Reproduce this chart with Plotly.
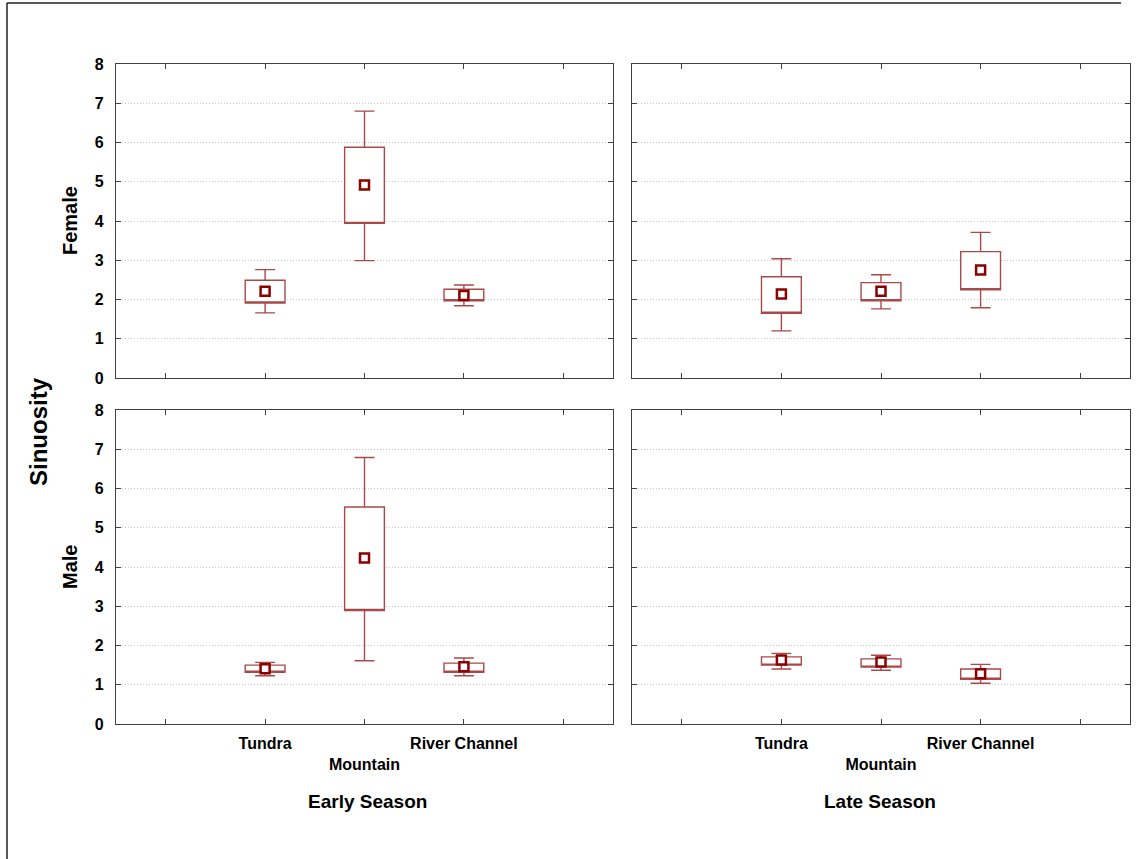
import plotly.graph_objects as go

W, H = 1140, 859

# ---- data ----
habitats = ["Tundra", "Mountain", "River Channel"]
hab_pos = [2, 3, 4]
tick_vals = [1, 2, 3, 4, 5]
tick_text = ["", "Tundra", "<br>Mountain", "River Channel", ""]
seasons = ["Early Season", "Late Season"]
sexes = ["Female", "Male"]

# Female, Early Season
fe_mean = [2.21, 4.92, 2.10]
fe_box_lo = [1.91, 3.94, 1.97]
fe_box_hi = [2.49, 5.88, 2.26]
fe_wh_lo = [1.66, 2.99, 1.84]
fe_wh_hi = [2.76, 6.80, 2.37]

# Female, Late Season
fl_mean = [2.14, 2.21, 2.75]
fl_box_lo = [1.65, 1.97, 2.25]
fl_box_hi = [2.58, 2.43, 3.22]
fl_wh_lo = [1.20, 1.76, 1.79]
fl_wh_hi = [3.04, 2.63, 3.71]

# Male, Early Season
me_mean = [1.41, 4.23, 1.46]
me_box_lo = [1.32, 2.89, 1.32]
me_box_hi = [1.50, 5.53, 1.55]
me_wh_lo = [1.23, 1.61, 1.23]
me_wh_hi = [1.57, 6.79, 1.68]

# Male, Late Season
ml_mean = [1.63, 1.58, 1.28]
ml_box_lo = [1.50, 1.45, 1.14]
ml_box_hi = [1.71, 1.66, 1.40]
ml_wh_lo = [1.40, 1.37, 1.04]
ml_wh_hi = [1.80, 1.75, 1.52]

panels = [
    ("x", "y", fe_mean, fe_box_lo, fe_box_hi, fe_wh_lo, fe_wh_hi),
    ("x2", "y2", fl_mean, fl_box_lo, fl_box_hi, fl_wh_lo, fl_wh_hi),
    ("x3", "y3", me_mean, me_box_lo, me_box_hi, me_wh_lo, me_wh_hi),
    ("x4", "y4", ml_mean, ml_box_lo, ml_box_hi, ml_wh_lo, ml_wh_hi),
]

BOX_COLOR = "#a84a4a"
MEAN_COLOR = "#8b0000"
FONT = "Liberation Sans, Arial, sans-serif"

fig = go.Figure()
for xa, ya, mean, blo, bhi, wlo, whi in panels:
    fig.add_trace(go.Box(
        x=hab_pos, q1=blo, median=blo, q3=bhi,
        lowerfence=wlo, upperfence=whi,
        width=0.4, whiskerwidth=0.5,
        fillcolor="white", line=dict(color=BOX_COLOR, width=1.4),
        boxpoints=False, xaxis=xa, yaxis=ya, showlegend=False,
        hoverinfo="skip",
    ))
    fig.add_trace(go.Scatter(
        x=hab_pos, y=mean, mode="markers",
        marker=dict(symbol="square", size=9, color="white",
                    line=dict(color=MEAN_COLOR, width=2.5)),
        xaxis=xa, yaxis=ya, showlegend=False, hoverinfo="skip",
    ))

def px_x(p):
    return p / W

def px_y(p):
    return 1 - p / H

dom_x = [[px_x(116), px_x(613)], [px_x(632), px_x(1130)]]
dom_y = [[px_y(378), px_y(64)], [px_y(724), px_y(410)]]

tickfont = dict(family=FONT, size=16, color="black", weight="bold")

def xaxis(dom, anchor, labels):
    return dict(
        domain=dom, anchor=anchor, range=[0.5, 5.5], automargin=False,
        tickmode="array", tickvals=tick_vals,
        ticktext=tick_text if labels else [""] * 5,
        showticklabels=labels,
        ticks="inside", ticklen=5, tickcolor="#404040",
        showline=True, linecolor="#404040", linewidth=1.2, mirror="ticks",
        showgrid=False, zeroline=False, tickfont=tickfont,
        ticklabelstandoff=5,
    )

def yaxis(dom, anchor, labels):
    return dict(
        domain=dom, anchor=anchor, range=[0, 8], automargin=False,
        tickmode="array", tickvals=list(range(0, 9)),
        showticklabels=labels,
        ticks="inside", ticklen=5, tickcolor="#404040",
        showline=True, linecolor="#404040", linewidth=1.2, mirror="ticks",
        showgrid=True, gridcolor="#c8c8c8", griddash="1px,2px", gridwidth=1,
        zeroline=False, tickfont=tickfont, ticklabelstandoff=8,
    )

layout = dict(
    width=W, height=H, autosize=False,
    margin=dict(l=0, r=0, t=0, b=0, pad=0, autoexpand=False),
    paper_bgcolor="white", plot_bgcolor="white",
    showlegend=False,
    xaxis=xaxis(dom_x[0], "y", False),
    yaxis=yaxis(dom_y[0], "x", True),
    xaxis2=xaxis(dom_x[1], "y2", False),
    yaxis2=yaxis(dom_y[0], "x2", False),
    xaxis3=xaxis(dom_x[0], "y3", True),
    yaxis3=yaxis(dom_y[1], "x3", True),
    xaxis4=xaxis(dom_x[1], "y4", True),
    yaxis4=yaxis(dom_y[1], "x4", False),
)
fig.update_layout(**layout)

ann_font = dict(family=FONT, size=19, color="black", weight="bold")
side_font = dict(family=FONT, size=20, color="black", weight="bold")
annotations = [
    dict(text=seasons[0], x=px_x(367), y=px_y(801), font=ann_font),
    dict(text=seasons[1], x=px_x(880), y=px_y(801), font=ann_font),
    dict(text=sexes[0], x=px_x(70), y=px_y(221), textangle=-90, font=side_font),
    dict(text=sexes[1], x=px_x(70), y=px_y(567), textangle=-90, font=side_font),
    dict(text="Sinuosity", x=px_x(38), y=px_y(432), textangle=-90,
         font=dict(family=FONT, size=24, color="black", weight="bold")),
]
for a in annotations:
    a.update(xref="paper", yref="paper", showarrow=False,
             xanchor="center", yanchor="middle")
fig.update_layout(annotations=annotations)

# outer frame (partially cropped in the original)
fig.add_shape(type="line", xref="paper", yref="paper",
              x0=px_x(7), x1=px_x(1121), y0=px_y(3), y1=px_y(3),
              line=dict(color="#202020", width=1.5))
fig.add_shape(type="line", xref="paper", yref="paper",
              x0=px_x(7), x1=px_x(7), y0=px_y(3), y1=0,
              line=dict(color="#202020", width=1.5))

fig.write_html("out.html")
